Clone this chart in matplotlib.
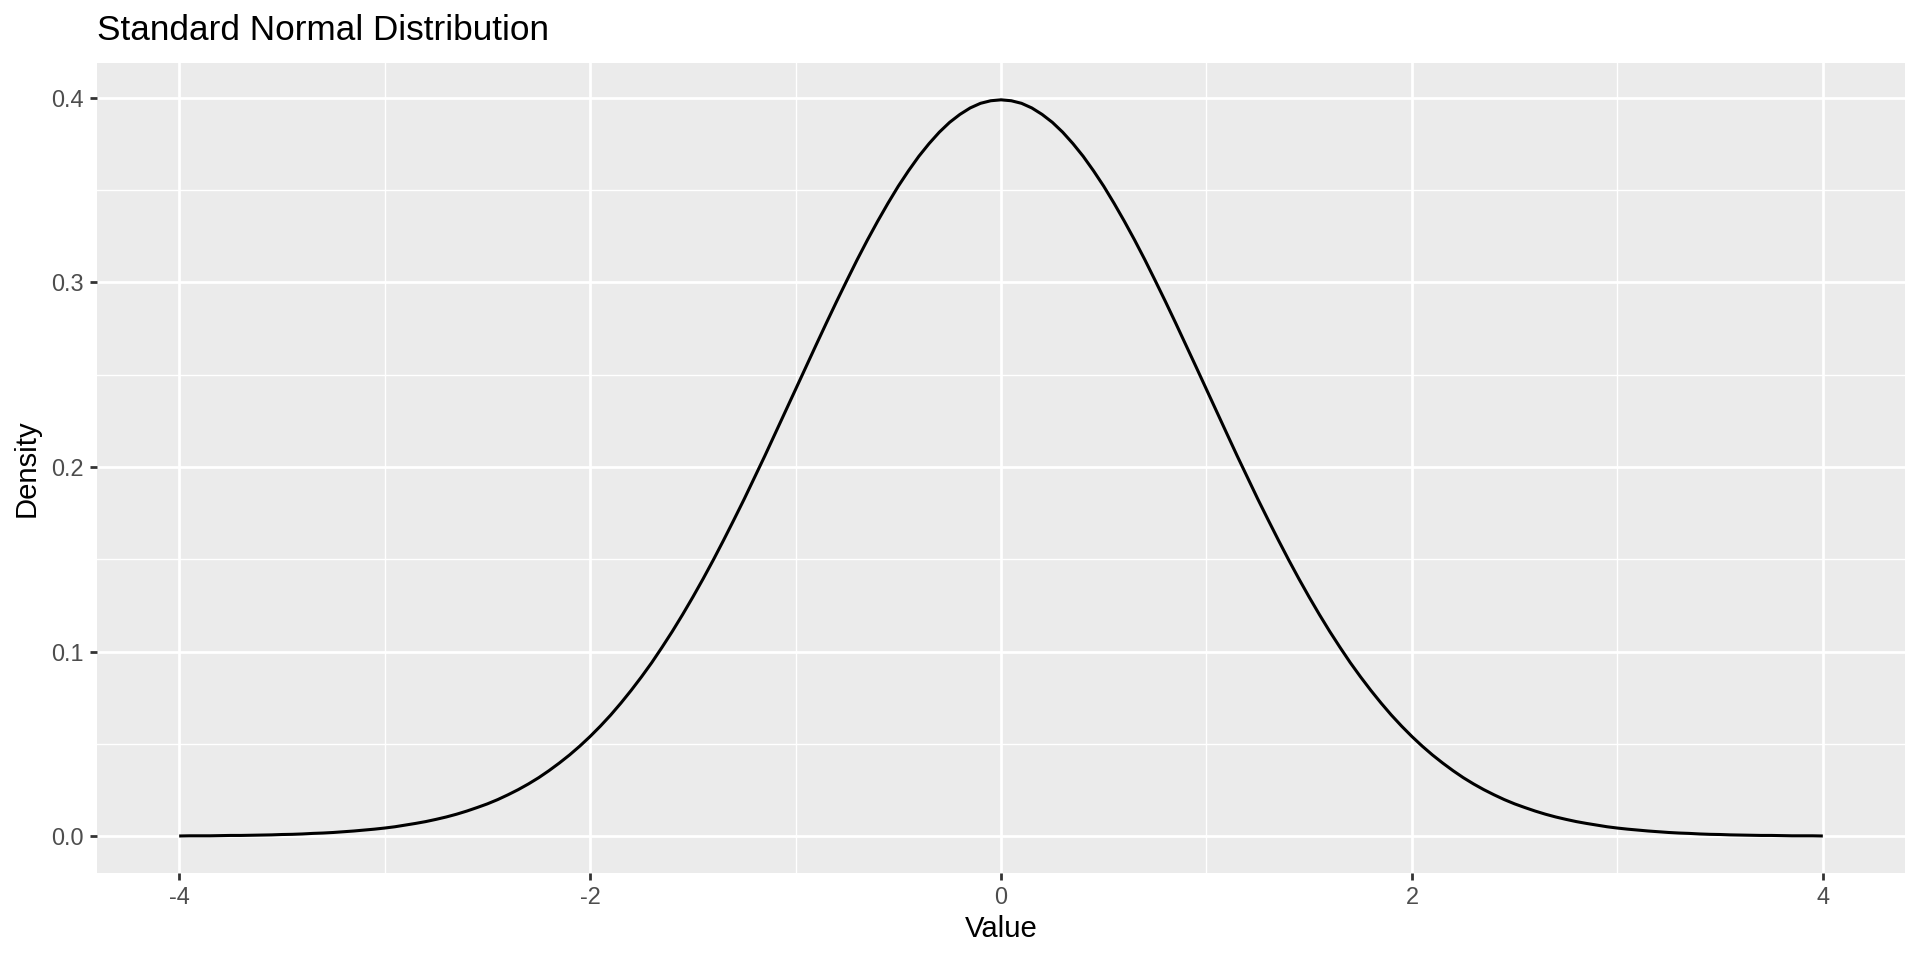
import matplotlib
matplotlib.use("Agg")
import matplotlib.pyplot as plt
from matplotlib.ticker import FixedLocator

plt.rcParams['font.family'] = ['Liberation Sans', 'DejaVu Sans']

values = [-4.00, -3.95, -3.90, -3.85, -3.80, -3.75, -3.70, -3.65, -3.60, -3.55,
          -3.50, -3.45, -3.40, -3.35, -3.30, -3.25, -3.20, -3.15, -3.10, -3.05,
          -3.00, -2.95, -2.90, -2.85, -2.80, -2.75, -2.70, -2.65, -2.60, -2.55,
          -2.50, -2.45, -2.40, -2.35, -2.30, -2.25, -2.20, -2.15, -2.10, -2.05,
          -2.00, -1.95, -1.90, -1.85, -1.80, -1.75, -1.70, -1.65, -1.60, -1.55,
          -1.50, -1.45, -1.40, -1.35, -1.30, -1.25, -1.20, -1.15, -1.10, -1.05,
          -1.00, -0.95, -0.90, -0.85, -0.80, -0.75, -0.70, -0.65, -0.60, -0.55,
          -0.50, -0.45, -0.40, -0.35, -0.30, -0.25, -0.20, -0.15, -0.10, -0.05,
          0.00,
          0.05, 0.10, 0.15, 0.20, 0.25, 0.30, 0.35, 0.40, 0.45, 0.50,
          0.55, 0.60, 0.65, 0.70, 0.75, 0.80, 0.85, 0.90, 0.95, 1.00,
          1.05, 1.10, 1.15, 1.20, 1.25, 1.30, 1.35, 1.40, 1.45, 1.50,
          1.55, 1.60, 1.65, 1.70, 1.75, 1.80, 1.85, 1.90, 1.95, 2.00,
          2.05, 2.10, 2.15, 2.20, 2.25, 2.30, 2.35, 2.40, 2.45, 2.50,
          2.55, 2.60, 2.65, 2.70, 2.75, 2.80, 2.85, 2.90, 2.95, 3.00,
          3.05, 3.10, 3.15, 3.20, 3.25, 3.30, 3.35, 3.40, 3.45, 3.50,
          3.55, 3.60, 3.65, 3.70, 3.75, 3.80, 3.85, 3.90, 3.95, 4.00]
density = [0.0001, 0.0002, 0.0002, 0.0002, 0.0003, 0.0004, 0.0004, 0.0005, 0.0006, 0.0007,
           0.0009, 0.0010, 0.0012, 0.0015, 0.0017, 0.0020, 0.0024, 0.0028, 0.0033, 0.0038,
           0.0044, 0.0051, 0.0060, 0.0069, 0.0079, 0.0091, 0.0104, 0.0119, 0.0136, 0.0155,
           0.0175, 0.0198, 0.0224, 0.0252, 0.0283, 0.0317, 0.0355, 0.0396, 0.0440, 0.0488,
           0.0540, 0.0596, 0.0656, 0.0721, 0.0790, 0.0863, 0.0940, 0.1023, 0.1109, 0.1200,
           0.1295, 0.1394, 0.1497, 0.1604, 0.1714, 0.1826, 0.1942, 0.2059, 0.2179, 0.2299,
           0.2420, 0.2541, 0.2661, 0.2780, 0.2897, 0.3011, 0.3123, 0.3230, 0.3332, 0.3429,
           0.3521, 0.3605, 0.3683, 0.3752, 0.3814, 0.3867, 0.3910, 0.3945, 0.3970, 0.3984,
           0.3989,
           0.3984, 0.3970, 0.3945, 0.3910, 0.3867, 0.3814, 0.3752, 0.3683, 0.3605, 0.3521,
           0.3429, 0.3332, 0.3230, 0.3123, 0.3011, 0.2897, 0.2780, 0.2661, 0.2541, 0.2420,
           0.2299, 0.2179, 0.2059, 0.1942, 0.1826, 0.1714, 0.1604, 0.1497, 0.1394, 0.1295,
           0.1200, 0.1109, 0.1023, 0.0940, 0.0863, 0.0790, 0.0721, 0.0656, 0.0596, 0.0540,
           0.0488, 0.0440, 0.0396, 0.0355, 0.0317, 0.0283, 0.0252, 0.0224, 0.0198, 0.0175,
           0.0155, 0.0136, 0.0119, 0.0104, 0.0091, 0.0079, 0.0069, 0.0060, 0.0051, 0.0044,
           0.0038, 0.0033, 0.0028, 0.0024, 0.0020, 0.0017, 0.0015, 0.0012, 0.0010, 0.0009,
           0.0007, 0.0006, 0.0005, 0.0004, 0.0004, 0.0003, 0.0002, 0.0002, 0.0002, 0.0001]

x_ticks = [-4, -2, 0, 2, 4]
x_tick_labels = ['-4', '-2', '0', '2', '4']
x_minor = [-3, -1, 1, 3]
y_ticks = [0.0, 0.1, 0.2, 0.3, 0.4]
y_tick_labels = ['0.0', '0.1', '0.2', '0.3', '0.4']
y_minor = [0.05, 0.15, 0.25, 0.35]

W, H = 1920, 960
fig = plt.figure(figsize=(19.2, 9.6), dpi=100)
ax = fig.add_axes([97 / W, 1 - 873 / H, 1808 / W, 810 / H])
ax.set_facecolor('#EBEBEB')
for s in ax.spines.values():
    s.set_visible(False)

ax.set_xlim(-4.4, 4.4)
ax.set_ylim(-0.01995, 0.41885)

ax.xaxis.set_major_locator(FixedLocator(x_ticks))
ax.xaxis.set_minor_locator(FixedLocator(x_minor))
ax.yaxis.set_major_locator(FixedLocator(y_ticks))
ax.yaxis.set_minor_locator(FixedLocator(y_minor))
ax.set_xticklabels(x_tick_labels)
ax.set_yticklabels(y_tick_labels)

ax.grid(True, which='major', color='white', linewidth=2.0)
ax.grid(True, which='minor', color='white', linewidth=1.0)
ax.set_axisbelow(True)

ax.tick_params(which='major', length=5.3, width=2.0, color='#333333',
               labelsize=16.9, labelcolor='#4D4D4D', direction='out')
ax.tick_params(axis='x', which='major', pad=4)
ax.tick_params(axis='y', which='major', pad=4.5)
ax.tick_params(which='minor', length=0)

ax.plot(values, density, color='black', linewidth=2.2,
        solid_joinstyle='round', solid_capstyle='butt')

fig.text(97 / W, 1 - 40 / H, 'Standard Normal Distribution', fontsize=25.3,
         color='black', ha='left', va='baseline')
fig.text((97 + 904) / W, 1 - 929 / H, 'Value', fontsize=21.1, color='black',
         ha='center', va='center')
fig.text(27 / W, 1 - 468 / H, 'Density', fontsize=21.1, color='black',
         ha='center', va='center', rotation=90)

fig.savefig('out.png', dpi=100)
